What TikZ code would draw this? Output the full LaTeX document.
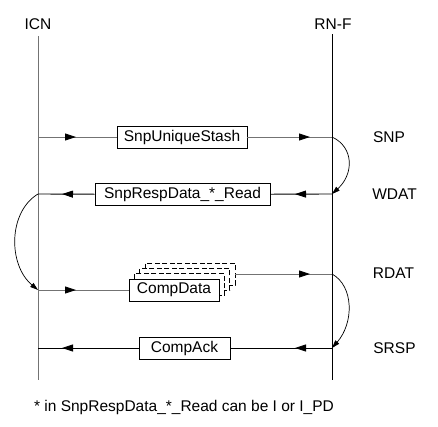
\documentclass[tikz,border=0pt]{standalone}
\usepackage{fontspec}
\setmainfont{Liberation Sans}
\usetikzlibrary{arrows.meta,decorations.markings}

\begin{document}
\begin{tikzpicture}[x=1pt, y=-1pt,
	lbl/.style={font=\fontsize{15.5}{18}\selectfont},
	msgbox/.style={lbl, draw=black, line width=0.8pt, fill=white, minimum height=22pt, inner xsep=5pt, inner ysep=0pt},
	stackbox/.style={msgbox, dash pattern=on 5pt off 2.5pt, minimum width=90pt},
	lifeline/.style={line width=1pt},
	msg/.style={line width=0.9pt},
	tipat/.style={postaction={decorate}, decoration={markings, mark=at position #1 with {\arrow[black]{Triangle[length=11pt,width=7pt]}}}},
	hop/.style={line width=0.7pt, -{Triangle[length=8pt,width=5pt]}}]
	\useasboundingbox (0,0) rectangle (438,426);

	% lifelines
	\node[lbl] (icn) at (38,24) {ICN};
	\node[lbl] (rnf) at (333,24) {RN-F};
	\coordinate (icntop) at (38,36);
	\coordinate (icnbot) at (38,380);
	\coordinate (rnftop) at (332,34);
	\coordinate (rnfbot) at (332,380);
	\draw[lifeline, black!55] (icntop) -- (icnbot);
	\draw[lifeline] (rnftop) -- (rnfbot);

	% message rows
	\coordinate (icn1) at (38,137);  \coordinate (rnf1) at (332,137);
	\coordinate (icn2) at (38,194);  \coordinate (rnf2) at (332,194);
	\coordinate (icn3) at (38,290);  \coordinate (rnf3) at (332,274);
	\coordinate (icn4) at (38,348);  \coordinate (rnf4) at (332,348);

	% channels
	\node[lbl] (snp) at (389,137) {SNP};
	\node[lbl] (wdat) at (394.5,194) {WDAT};
	\node[lbl] (rdat) at (393.5,273) {RDAT};
	\node[lbl] (srsp) at (394.5,348) {SRSP};

	% messages
	\node[msgbox, minimum width=130pt] (snpus) at (182,137) {SnpUniqueStash};
	\node[msgbox, minimum width=175pt] (snpresp) at (182.5,194.5) {SnpRespData\_*\_Read};
	\node[stackbox] (cd3) at (190,274) {};
	\node[stackbox] (cd2) at (184.7,279.3) {};
	\node[stackbox] (cd1) at (179.3,284.7) {};
	\node[msgbox, minimum width=90pt] (cd) at (174,290) {CompData};
	\node[msgbox, minimum width=91pt] (compack) at (184.5,348) {CompAck};

	\draw[msg, black!55, tipat=38pt] (icn1) -- (snpus);
	\draw[msg, black!55, tipat=-22pt] (snpus) -- (rnf1);
	\draw[msg, tipat=37pt] (rnf2) -- (snpresp);
	\draw[msg, tipat=-24pt] (snpresp) -- (icn2);
	\draw[msg, black!55, tipat=38pt] (icn3) -- (cd);
	\draw[msg, black!55, tipat=-22pt] (cd3) -- (rnf3);
	\draw[msg, tipat=37pt] (rnf4) -- (compack);
	\draw[msg, tipat=-24pt] (compack) -- (icn4);

	% hops
	\draw[hop] (rnf1) .. controls +(22,10) and +(22,-20) .. (rnf2);
	\draw[hop] (icn2) .. controls +(-30,18) and +(-30,-25) .. (icn3);
	\draw[hop] (rnf3) .. controls +(22,12) and +(22,-25) .. (rnf4);

	% note
	\node[lbl] (note) at (184,407) {* in SnpRespData\_*\_Read can be I or I\_PD};

\end{tikzpicture}
\end{document}
